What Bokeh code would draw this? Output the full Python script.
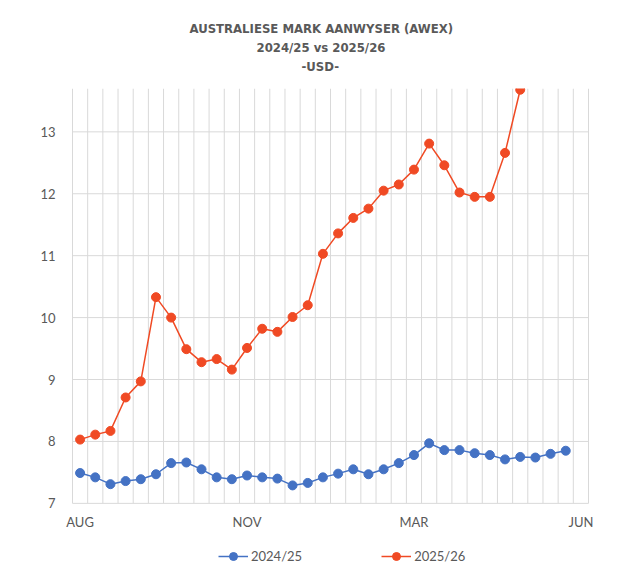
from bokeh.plotting import figure
from bokeh.models import FixedTicker, Title, Legend, LegendItem, Range1d
from bokeh.embed import file_html
from bokeh.resources import INLINE

# ---- data ----
week_2024_25 = list(range(33))
awex_2024_25 = [7.49, 7.42, 7.31, 7.36, 7.39, 7.47, 7.65, 7.66, 7.55, 7.42,
                7.39, 7.45, 7.42, 7.40, 7.29, 7.33, 7.42, 7.48, 7.55, 7.47,
                7.55, 7.65, 7.78, 7.97, 7.86, 7.86, 7.81, 7.78, 7.71, 7.75,
                7.74, 7.80, 7.85]

week_2025_26 = list(range(30))
awex_2025_26 = [8.03, 8.11, 8.17, 8.71, 8.97, 10.33, 10.00, 9.49, 9.28, 9.33,
                9.16, 9.51, 9.82, 9.77, 10.01, 10.20, 11.03, 11.36, 11.61, 11.76,
                12.05, 12.15, 12.39, 12.81, 12.46, 12.02, 11.95, 11.95, 12.66, 13.68]

n_weeks = 34
month_ticks = [0, 11, 22, 33]
month_labels = ["AUG", "NOV", "MAR", "JUN"]
y_ticks = [7, 8, 9, 10, 11, 12, 13]
y_min, y_max = 7, 13.7

title_lines = ["AUSTRALIESE MARK AANWYSER (AWEX)", "2024/25 vs 2025/26", "-USD-"]
series_names = ["2024/25", "2025/26"]
blue = "#4472C4"
red = "#F04A24"
grey_text = "#595959"
grid = "#D9D9D9"
font = "Lato"
title_font = "DejaVu Sans Condensed"

# the frame is a little larger than the plotted area so that the month
# labels and the legend (drawn inside it) are not clipped
p = figure(frame_width=543, frame_height=494, output_backend="svg",
           toolbar_location=None, x_range=Range1d(-1.159, 34.62),
           y_range=Range1d(5.722, y_max), min_border_left=62, min_border_right=20,
           min_border_top=88, min_border_bottom=0)
p.outline_line_color = None
p.background_fill_color = "white"
p.border_fill_color = "white"

# spacer + titles, stacked upward from the plot area
p.add_layout(Title(text=" ", text_font_size="8px", standoff=4), "above")
title_offsets = [239, 194, 127]
title_standoffs = [0, 3, 1]
for txt, off, so in zip(reversed(title_lines), title_offsets, title_standoffs):
    p.add_layout(Title(text=txt, align="left", offset=off, text_font=title_font,
                       text_font_size="13px", text_font_style="bold",
                       text_color=grey_text, standoff=so), "above")

# axes
p.xaxis.fixed_location = y_min
p.xaxis.ticker = FixedTicker(ticks=month_ticks)
p.xaxis.major_label_overrides = {t: l for t, l in zip(month_ticks, month_labels)}
p.xaxis.major_tick_line_color = None
p.xaxis.minor_tick_line_color = None
p.xaxis.axis_line_color = None
p.xaxis.major_label_text_color = grey_text
p.xaxis.major_label_text_font = font
p.xaxis.major_label_text_font_size = "13px"
p.xaxis.major_label_standoff = 5

p.yaxis.ticker = FixedTicker(ticks=y_ticks)
p.yaxis.major_tick_line_color = None
p.yaxis.minor_tick_line_color = None
p.yaxis.axis_line_color = None
p.yaxis.major_label_text_color = grey_text
p.yaxis.major_label_text_font = font
p.yaxis.major_label_text_font_size = "13px"
p.yaxis.major_label_standoff = 1

# grid limited to the plotted area
p.xgrid.visible = False
p.ygrid.visible = False
x_lo, x_hi = -0.5, n_weeks - 0.5
bounds = [i - 0.5 for i in range(n_weeks + 1)]
p.segment(x0=bounds, y0=[y_min] * len(bounds), x1=bounds, y1=[y_max] * len(bounds),
          line_color=grid, line_width=1)
p.segment(x0=[x_lo] * len(y_ticks), y0=y_ticks, x1=[x_hi] * len(y_ticks), y1=y_ticks,
          line_color=grid, line_width=1)

l1 = p.line(week_2024_25, awex_2024_25, line_color=blue, line_width=1.5)
m1 = p.scatter(week_2024_25, awex_2024_25, size=9, fill_color=blue, line_color=blue)
l2 = p.line(week_2025_26, awex_2025_26, line_color=red, line_width=1.5)
m2 = p.scatter(week_2025_26, awex_2025_26, size=9, fill_color=red, line_color=red)

legend = Legend(items=[LegendItem(label=series_names[0], renderers=[l1, m1]),
                       LegendItem(label=series_names[1], renderers=[l2, m2])],
                orientation="horizontal", location=(156, 16), spacing=79,
                label_text_font=font, label_text_font_size="13px",
                label_text_color=grey_text, glyph_width=30, glyph_height=20,
                label_standoff=3, border_line_color=None,
                background_fill_alpha=0, margin=0, padding=0)
p.add_layout(legend, "center")

open("out.html", "w").write(file_html(p, INLINE))
